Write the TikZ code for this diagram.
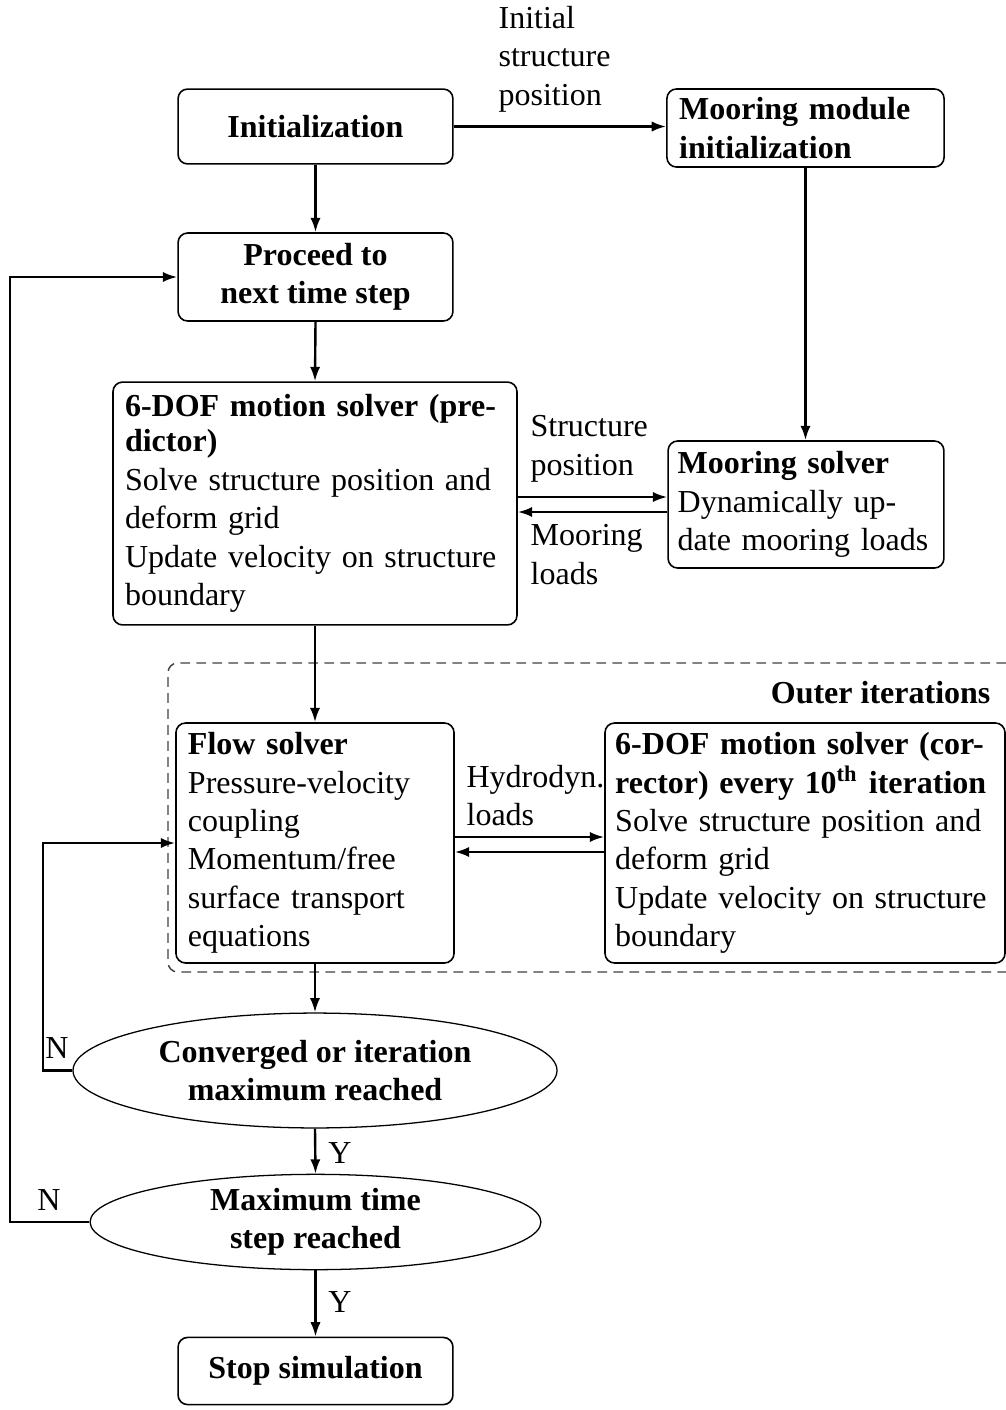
\documentclass[tikz,border=0pt]{standalone}
\usepackage{fontspec}
\setmainfont{Liberation Serif}
\usetikzlibrary{arrows.meta,shapes.geometric,calc}
\tikzset{
  box/.style={draw, line width=0.5pt, rounded corners=3pt, inner ysep=0pt},
  lbox/.style={box, align=left},
  cbox/.style={box, align=center, font=\bfseries},
  ell/.style={draw, line width=0.4pt, ellipse, inner sep=0pt, align=center, font=\bfseries},
  arr/.style={line width=0.75pt, -{Latex[length=4.5pt,width=3.2pt]}},
  lab/.style={inner sep=0pt, align=left},
  dashbox/.style={line width=0.45pt, draw=black!75, dash pattern=on 3pt off 2pt, rounded corners=3pt}
}
\begin{document}
\begin{tikzpicture}[x=0.3125pt, y=-0.3125pt]
\useasboundingbox (0,0) rectangle (1006,1410);

% nodes
\node[cbox, minimum width=85.9pt, minimum height=23.4pt] (init) at (315.5,126.5) {Initialization};
\node[lbox, text width=79pt, inner xsep=3.8pt, minimum height=24.4pt] (minit) at (805.5,128) {\textbf{Mooring module}\\\textbf{initialization}};
\node[cbox, minimum width=85.9pt, minimum height=27.5pt] (proc) at (315.5,277) {Proceed to\\next time step};
\node[lbox, text width=118.75pt, inner xsep=3.75pt, minimum height=75.9pt] (pred) at (315,503.5) {\textbf{6-DOF motion solver (pre-}\\[-1pt]\textbf{dictor)}\\Solve structure position and\\deform grid\\Update velocity on structure\\boundary};
\node[lbox, text width=80.2pt, inner xsep=3pt, minimum height=39.7pt] (msol) at (806,504.5) {\textbf{Mooring solver}\\Dynamically up-\\date mooring loads};
\node[lbox, text width=79.4pt, inner xsep=3.75pt, minimum height=75pt] (flow) at (315,843) {\textbf{Flow solver}\\Pressure-velocity\\coupling\\Momentum/free\\surface transport\\equations};
\node[lbox, text width=118.6pt, inner xsep=3.2pt, minimum height=75pt] (corr) at (805,843) {\textbf{6-DOF motion solver (cor-}\\\textbf{rector) every 10\textsuperscript{th} iteration}\\Solve structure position and\\deform grid\\Update velocity on structure\\boundary};
\node[ell, minimum width=151.25pt, minimum height=35.9pt] (conv) at (315,1070.5) {Converged or iteration\\maximum reached};
\node[ell, minimum width=140.9pt, minimum height=29.4pt] (maxt) at (315.5,1222) {Maximum time\\step reached};
\node[cbox, minimum width=85.9pt, minimum height=21pt] (stop) at (315.5,1371) {Stop simulation};

% dashed outer-iterations frame
\draw[dashbox] (1006,663) -- (168,663) -- (168,972) -- (1006,972);
\node[lab, anchor=east, font=\bfseries] (outer) at (991,693) {Outer iterations};

% helper coordinates
\coordinate (ya) at (0,497);
\coordinate (yb) at (0,512);
\coordinate (yc) at (0,837);
\coordinate (yd) at (0,852);
\coordinate (cL) at (43,1070.5);
\coordinate (mL) at (10,1222);

% connectors
\draw[arr] (init.east) -- (init.east -| minit.west);
\draw[arr] (init.south) -- (proc.north);
\draw[arr] (minit.south) -- (minit.south |- msol.north);
\draw[arr] (proc.south) -- (pred.north);
\draw[arr] (pred.east |- ya) -- (msol.west |- ya);
\draw[arr] (msol.west |- yb) -- (pred.east |- yb);
\draw[arr] (pred.south) -- (flow.north);
\draw[arr] (flow.east |- yc) -- (corr.west |- yc);
\draw[arr] (corr.west |- yd) -- (flow.east |- yd);
\draw[arr] (flow.south) -- (conv.north);
\draw[arr] (conv.west) -- (cL) |- (flow.west);
\draw[arr] (conv.south) -- (maxt.north);
\draw[arr] (maxt.west) -- (mL) |- (proc.west);
\draw[arr] (maxt.south) -- (stop.north);

% labels
\node[lab, anchor=west] (l1) at (498,59) {Initial\\structure\\position};
\node[lab, anchor=west] (l2) at (530,449) {Structure\\position};
\node[lab, anchor=west] (l3) at (530,554.5) {Mooring\\loads};
\node[lab, anchor=west] (l4) at (466,795.5) {Hydrodyn.\\loads};
\node[lab] (n1) at (57,1048) {N};
\node[lab] (n2) at (49,1200) {N};
\node[lab] (y1) at (340,1153) {Y};
\node[lab] (y2) at (340,1302) {Y};
\end{tikzpicture}
\end{document}
